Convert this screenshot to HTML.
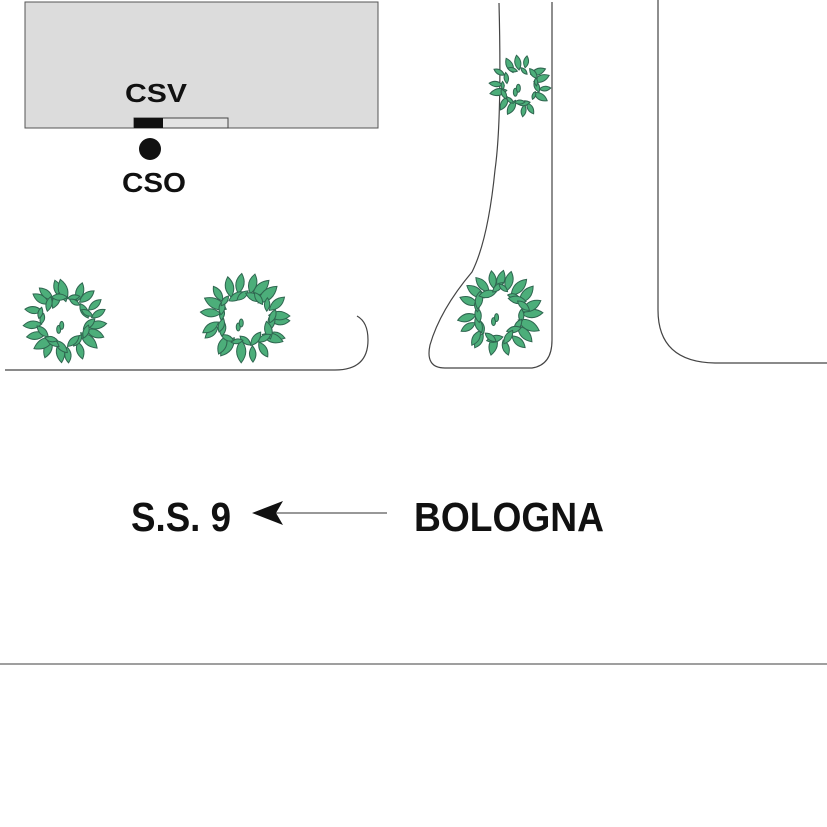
<!DOCTYPE html>
<html><head><meta charset="utf-8"><style>html,body{margin:0;padding:0;background:#fff}svg{display:block}</style></head>
<body>
<svg id="s" width="827" height="827" viewBox="0 0 827 827" xmlns="http://www.w3.org/2000/svg" font-family="Liberation Sans, sans-serif" font-weight="bold">
<rect x="25" y="2" width="353" height="126" fill="#dcdcdc" stroke="#555" stroke-width="1"/>
<rect x="134" y="118" width="94" height="10" fill="#e4e4e4" stroke="#444" stroke-width="1"/>
<rect x="134" y="118" width="29" height="10" fill="#111"/>
<circle cx="150" cy="149" r="11" fill="#111"/>
<text x="125" y="102" font-size="26" textLength="62" lengthAdjust="spacingAndGlyphs" fill="#111">CSV</text>
<text x="122" y="192" font-size="28" textLength="64" lengthAdjust="spacingAndGlyphs" fill="#111">CSO</text>
<g fill="none" stroke="#444" stroke-width="1.2">
<path d="M5,370 L335,370 Q368,370 368,340 Q368,322 357,316"/>
<path d="M499,3 Q502,120 495,170 Q488,240 472,272 Q440,310 430,345 Q425,368 445,368 L532,368 Q552,365 552,340 L552,2"/>
<path d="M658,0 L658,310 Q658,362 715,363 L827,363"/>
<line x1="0" y1="664" x2="827" y2="664" stroke="#666"/>
<line x1="272" y1="513" x2="387" y2="513" stroke="#777" stroke-width="1.5"/>
</g>
<path d="M252,513 L283,501 L276,513 L283,525 Z" fill="#111"/>
<text x="131" y="531" font-size="41" textLength="100" lengthAdjust="spacingAndGlyphs" fill="#111">S.S. 9</text>
<text x="414" y="531" font-size="41" textLength="190" lengthAdjust="spacingAndGlyphs" fill="#111">BOLOGNA</text>
<g id="trees"></g>
</svg>
<script>
(function(){
var g=document.getElementById('trees'),ns='http://www.w3.org/2000/svg';
var trees=[[65,321,42],[245,318,45],[520,86,31],[500,313,43]];
var seed=7;function rnd(){seed=(seed*9301+49297)%233280;return seed/233280;}
function leaf(x,y,L,W,ang){
  var p=document.createElementNS(ns,'path');
  p.setAttribute('d','M0,'+(-L)+' Q'+W+',0 0,'+L+' Q'+(-W)+',0 0,'+(-L)+'Z');
  p.setAttribute('transform','translate('+x.toFixed(1)+','+y.toFixed(1)+') rotate('+ang.toFixed(0)+')');
  p.setAttribute('fill','#4cae7a');p.setAttribute('stroke','#2f6650');p.setAttribute('stroke-width','1');
  g.appendChild(p);
}
trees.forEach(function(t){
 var cx=t[0],cy=t[1],R=t[2];
 var n=Math.round(R*0.45);
 for(var i=0;i<n;i++){
  var a=i/n*Math.PI*2+rnd()*0.25;
  var L=R*(0.18+rnd()*0.1),r=R-L;
  leaf(cx+Math.cos(a)*r,cy+Math.sin(a)*r,L,L*0.8,a*180/Math.PI+90+(rnd()-0.5)*40);
 }
 var m=Math.round(R*0.4);
 for(var j=0;j<m;j++){
  var b=j/m*Math.PI*2+rnd()*0.3;
  var L2=R*(0.13+rnd()*0.08),r2=R*(0.5+rnd()*0.12);
  leaf(cx+Math.cos(b)*r2,cy+Math.sin(b)*r2,L2,L2*0.8,b*180/Math.PI+(rnd()-0.5)*90);
 }
 for(var k=0;k<2;k++){
  var q=document.createElementNS(ns,'ellipse');
  q.setAttribute('cx',cx-R*0.15+k*3);q.setAttribute('cy',cy+R*0.2-k*4);q.setAttribute('rx',2);q.setAttribute('ry',4);
  q.setAttribute('fill','#4cae7a');q.setAttribute('stroke','#2f6650');g.appendChild(q);
 }
});
})();
</script>
</body></html>
